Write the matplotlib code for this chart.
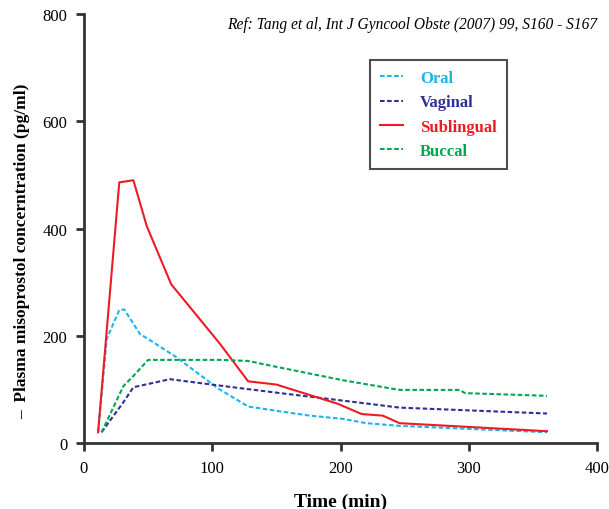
import matplotlib
matplotlib.use('Agg')
import matplotlib.pyplot as plt

# Dados (tempo em min, concentração em pg/ml)
oral_t = [11, 17.7, 27.5, 31.4, 43.7, 50, 72, 105, 128, 153, 176, 202, 220, 246, 361]
oral_c = [20, 194, 248, 249, 203, 194, 160, 101, 68, 59, 51, 45, 37, 32, 20]

vaginal_t = [13.7, 30.7, 38.5, 67, 106, 153, 202, 246, 361]
vaginal_c = [20, 76, 104, 119, 107, 93, 79, 66, 55]

subl_t = [11, 27.5, 38.5, 49, 68, 106, 128, 150, 198, 216.5, 233, 246, 361]
subl_c = [20, 486, 490, 404, 296, 185, 115, 109, 73, 54, 51, 37, 22]

buccal_t = [13.7, 30.7, 38.5, 50, 106, 128, 150, 202, 246, 293, 297, 361]
buccal_c = [20, 106, 125, 155, 155, 153, 142, 117, 99, 99, 93, 88]

x_ticks = [0, 100, 200, 300, 400]
y_ticks = [0, 200, 400, 600, 800]

plt.rcParams['font.family'] = ['Liberation Serif', 'DejaVu Serif']

fig = plt.figure(figsize=(6.09, 5.10), dpi=100)
ax = fig.add_axes([84 / 609, 66 / 510, 513 / 609, 429 / 510])

dash = (0, (2.2, 1.2))
ax.plot(oral_t, oral_c, color='#1EB4E8', lw=1.5, linestyle=dash, label='Oral')
ax.plot(vaginal_t, vaginal_c, color='#2E3192', lw=1.5, linestyle=dash, label='Vaginal')
ax.plot(subl_t, subl_c, color='#ED1C24', lw=1.5, label='Sublingual')
ax.plot(buccal_t, buccal_c, color='#00A651', lw=1.5, linestyle=dash, label='Buccal')

ax.set_xlim(0, 400)
ax.set_ylim(0, 800)
ax.set_xticks(x_ticks)
ax.set_yticks(y_ticks)
ax.spines['top'].set_visible(False)
ax.spines['right'].set_visible(False)
for s in ['left', 'bottom']:
    ax.spines[s].set_linewidth(2)
    ax.spines[s].set_color('#333333')
ax.tick_params(direction='out', length=6, width=2, color='#333333', labelsize=12, pad=6)

ax.set_xlabel('Time (min)', fontsize=14, fontweight='bold', labelpad=12)
ax.set_ylabel('–  Plasma misoprostol concerntration (pg/ml)', fontsize=12.5, fontweight='bold')
ax.yaxis.set_label_coords(-54 / 513, 0.45)

fig.text(0.98, 0.951, 'Ref: Tang et al, Int J Gyncool Obste (2007) 99, S160 - S167',
         fontsize=11.2, style='italic', ha='right', va='center')

leg = ax.legend(loc='upper left', bbox_to_anchor=(370 / 609, 1 - 61 / 510),
                bbox_transform=fig.transFigure, borderaxespad=0, frameon=True,
                fancybox=False, edgecolor='#222222', labelcolor='linecolor',
                handlelength=1.4, handletextpad=1.0, labelspacing=0.5,
                borderpad=0.6, prop={'weight': 'bold', 'size': 12})
leg.get_frame().set_linewidth(1.5)

fig.savefig('out.png', dpi=100)
